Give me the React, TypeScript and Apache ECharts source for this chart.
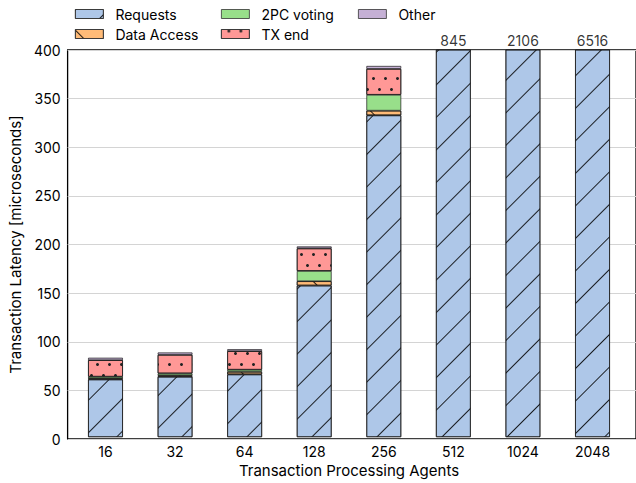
import React, { useEffect, useRef } from "react";
import * as echarts from "echarts";

const categories = ["16", "32", "64", "128", "256", "512", "1024", "2048"];
const requests = [59.6, 62.4, 64.8, 156.6, 332.5, 845, 2106, 6516];
const dataAccess = [1.1, 1.4, 2.7, 4.5, 4.8, 0, 0, 0];
const twoPCVoting = [1.7, 2.0, 2.1, 10.6, 16.4, 0, 0, 0];
const txEnd = [17.1, 19.2, 19.2, 23.3, 26.8, 0, 0, 0];
const other = [2.5, 2.4, 2.0, 2.0, 3.0, 0, 0, 0];
const yMin = 0;
const yMax = 400;
const yInterval = 50;

const FONT = "Inter";

export default function App() {
  const ref = useRef<HTMLDivElement>(null);
  useEffect(() => {
    if (!ref.current) return;
    const chart = echarts.init(ref.current, null, { renderer: "svg" });
    const totals = categories.map(
      (_, i) => requests[i] + dataAccess[i] + twoPCVoting[i] + txEnd[i] + other[i]
    );
    const hatch = (rot: number) => ({
      symbol: "rect",
      symbolSize: 1,
      color: "rgba(0,0,0,0.85)",
      dashArrayX: [1, 0],
      dashArrayY: [1, 22],
      rotation: rot,
    });
    const mk = (name: string, data: number[], color: string, decal?: any) => ({
      name,
      type: "bar",
      xAxisIndex: 1,
      yAxisIndex: 1,
      stack: "total",
      barWidth: "50%",
      data,
      itemStyle: {
        color,
        borderColor: "#1a1a1a",
        borderWidth: 0.7,
        ...(decal ? { decal } : {}),
      },
    });
    const legendCommon = {
      itemWidth: 28,
      itemHeight: 9,
      icon: "rect",
      padding: 0,
      itemStyle: { borderColor: "#333", borderWidth: 0.8 },
      textStyle: { fontSize: 14, color: "#000", fontFamily: FONT, padding: [0, 0, 0, 7] },
    };
    chart.setOption({
      animation: false,
      backgroundColor: "#fff",
      textStyle: { fontFamily: FONT },
      legend: [
        { ...legendCommon, data: ["Requests"], left: 75, top: 7 },
        { ...legendCommon, data: ["Data Access"], left: 75, top: 27 },
        { ...legendCommon, data: ["2PC voting"], left: 221, top: 7 },
        { ...legendCommon, data: ["TX end"], left: 221, top: 27 },
        { ...legendCommon, data: ["Other"], left: 358, top: 7 },
      ],
      grid: [
        { left: 62, right: 0, top: 50, bottom: 44, show: true, borderColor: "#000", borderWidth: 1.3, backgroundColor: "transparent" },
        { left: 70.7, right: 8.7, top: 50, bottom: 44 },
      ],
      xAxis: [
        { gridIndex: 0, type: "value", min: 0, max: 1, show: false },
        {
          gridIndex: 1,
          type: "category",
          data: categories,
          axisLine: { show: false },
          axisTick: { show: false },
          axisLabel: { color: "#000", fontSize: 14, margin: 7, fontFamily: FONT },
          name: "Transaction Processing Agents",
          nameLocation: "middle",
          nameGap: 22,
          nameTextStyle: { fontSize: 15, color: "#000", fontFamily: FONT },
        },
      ],
      yAxis: [
        {
          gridIndex: 0,
          type: "value",
          min: yMin,
          max: yMax,
          interval: yInterval,
          axisLine: { show: false },
          axisTick: { show: false },
          axisLabel: { color: "#000", fontSize: 14, margin: 7, fontFamily: FONT },
          splitLine: { lineStyle: { color: "#d4d4d4", width: 1 } },
          name: "Transaction Latency [microseconds]",
          nameLocation: "middle",
          nameGap: 38,
          nameTextStyle: { fontSize: 15, color: "#000", fontFamily: FONT },
        },
        { gridIndex: 1, type: "value", min: yMin, max: yMax, show: false },
      ],
      series: [
        mk("Requests", requests, "#aec7e8", hatch(-Math.PI / 4)),
        mk("Data Access", dataAccess, "#ffbb78", hatch(Math.PI / 4)),
        mk("2PC voting", twoPCVoting, "#98df8a"),
        mk("TX end", txEnd, "#ff9896", {
          symbol: "circle",
          symbolSize: 1,
          color: "#222",
          dashArrayX: [[3, 9], [0, 6, 3, 3]],
          dashArrayY: [3, 8],
        }),
        mk("Other", other, "#c5b0d5"),
        {
          type: "scatter",
          xAxisIndex: 1,
          yAxisIndex: 1,
          symbolSize: 0,
          clip: false,
          silent: true,
          data: categories.map((c, i) => (totals[i] > yMax ? [c, yMax, totals[i]] : null)).filter(Boolean),
          label: {
            show: true,
            position: "top",
            distance: 3,
            color: "#000",
            fontSize: 14,
            fontFamily: FONT,
            formatter: (p: any) => String(Math.round(p.value[2])),
          },
        },
      ],
    });
    return () => chart.dispose();
  }, []);
  return (
    <div
      ref={ref}
      style={{ position: "fixed", left: 0, top: 0, width: 636, height: 483 }}
    />
  );
}
